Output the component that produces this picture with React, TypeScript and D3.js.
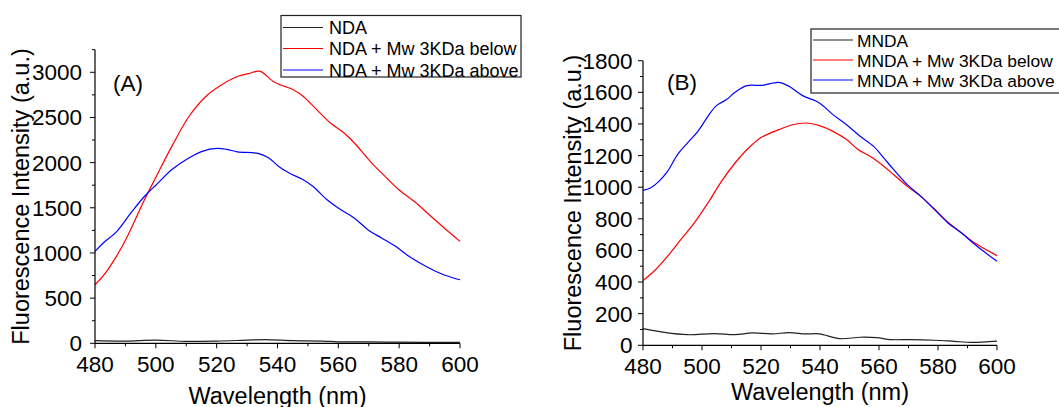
import React from "react";
import * as d3 from "d3";

// ---------- Data (wavelength nm, intensity a.u.) ----------
const xTicks = [480, 500, 520, 540, 560, 580, 600];
const yTicksA = [0, 500, 1000, 1500, 2000, 2500, 3000];
const yTicksB = [0, 200, 400, 600, 800, 1000, 1200, 1400, 1600, 1800];

const ndaLabels = ["NDA", "NDA + Mw 3KDa below", "NDA + Mw 3KDa above"];
const mndaLabels = ["MNDA", "MNDA + Mw 3KDa below", "MNDA + Mw 3KDa above"];

const ndaBlank: [number, number][] = [
  [480, 30], [490, 25], [500, 35], [510, 22], [520, 25], [530, 35], [536, 40],
  [545, 30], [555, 25], [560, 16], [570, 15], [580, 12], [590, 10], [600, 10],
];
const ndaBelow: [number, number][] = [
  [480, 648], [483, 760], [487, 960], [490.6, 1180], [496.3, 1591], [500.2, 1850], [505.3, 2183],
  [511, 2516], [516.6, 2738], [521, 2849], [526.8, 2953], [530.5, 2985], [534.1, 3012],
  [539.2, 2886], [544.9, 2812], [548.3, 2738], [552.8, 2590], [557.3, 2442],
  [561.8, 2331], [565.2, 2220], [570.9, 1998], [574.2, 1887], [579.9, 1700],
  [585, 1570], [590, 1420], [595, 1270], [600, 1128],
];
const ndaAbove: [number, number][] = [
  [480, 1017], [482.7, 1110], [487.2, 1239], [491.8, 1443], [496.3, 1628],
  [500.2, 1757], [505.3, 1924], [511, 2054], [515.5, 2128], [520, 2157],
  [523.4, 2146], [526.8, 2120], [533.6, 2102], [537, 2054], [540.3, 1961],
  [543.7, 1887], [548.3, 1813], [551.6, 1739], [556.2, 1591], [560.7, 1480],
  [565.2, 1388], [569.7, 1258], [574.2, 1166], [578.8, 1073], [583.3, 962],
  [588.9, 851], [594.6, 759], [600, 703],
];

const mndaBlank: [number, number][] = [
  [480, 105], [487.1, 82], [495.1, 67], [504.3, 74], [511.2, 67], [517, 78],
  [523.8, 72], [529.5, 80], [535.2, 72], [539.8, 72], [546.7, 42], [553.6, 51],
  [559.3, 48], [563.8, 36], [570.7, 36], [578.8, 32], [585.6, 25], [591.4, 19],
  [600, 27],
];
const mndaBelow: [number, number][] = [
  [480, 409], [483.7, 468], [488.3, 563], [492.8, 668], [497.4, 774], [502, 900],
  [506.6, 1037], [511.2, 1153], [515.8, 1248], [520.3, 1317], [526.1, 1364],
  [530.7, 1395], [535.2, 1406], [539.8, 1389], [544.4, 1353], [549, 1301],
  [553, 1237], [557, 1195], [561.6, 1132], [565, 1079], [569.6, 1005],
  [574.2, 942], [578.8, 862], [583.4, 778], [588, 710], [592.5, 647], [600, 567],
];
const mndaAbove: [number, number][] = [
  [480, 980], [482.5, 995], [485.4, 1037], [488.3, 1100], [491.7, 1206],
  [495.1, 1280], [498.6, 1353], [502, 1448], [504.9, 1516], [508.3, 1554],
  [511.2, 1600], [515.2, 1642], [520.3, 1644], [526.1, 1663], [529.5, 1638],
  [534.1, 1579], [539.8, 1533], [544.4, 1459], [549, 1395], [553.6, 1322],
  [558.2, 1258], [561.6, 1185], [565, 1111], [569.6, 1016], [574.2, 942],
  [578.8, 858], [583.4, 774], [588, 710], [592.5, 637], [600, 531],
];

const colors = ["#222222", "#ff0000", "#0000ff"];
const FONT = "Arial, 'Liberation Sans', sans-serif";

type PanelProps = {
  x0: number; x1: number; yBottom: number; yTop: number;
  yMax: number; yTicks: number[]; yMinor: number;
  series: [number, number][][];
  labels: string[];
  tag: string; tagX: number; tagY: number;
  legend: { x: number; y: number; w: number; h: number; rows: number[]; lineX0: number; lineX1: number; textX: number; fs: number };
  yLabelPad: number;
  yTitleX: number; xTitleY: number;
};

function Panel(p: PanelProps) {
  const x = d3.scaleLinear().domain([480, 600]).range([p.x0, p.x1]);
  const y = d3.scaleLinear().domain([0, p.yMax]).range([p.yBottom, p.yTop]);
  const line = d3.line<[number, number]>().x((d) => x(d[0])).y((d) => y(d[1])).curve(d3.curveCatmullRom.alpha(0.5));
  const xMinor = d3.range(490, 600, 20);
  const yMinor = d3.range(p.yMinor, p.yMax + 1, p.yMinor * 2);
  const midX = (p.x0 + p.x1) / 2;
  const midY = (p.yBottom + p.yTop) / 2;
  return (
    <g>
      {p.series.map((s, i) => (
        <path key={i} d={line(s) || ""} fill="none" stroke={colors[i]} strokeWidth={1.2} />
      ))}
      <line x1={p.x0} x2={p.x0} y1={y(p.yMax)} y2={p.yBottom} stroke="#000" strokeWidth={1.2} />
      <line x1={p.x0} x2={p.x1} y1={p.yBottom} y2={p.yBottom} stroke="#000" strokeWidth={1.2} />
      {xTicks.map((t) => (
        <g key={"xt" + t}>
          <line x1={x(t)} x2={x(t)} y1={p.yBottom} y2={p.yBottom + 5} stroke="#000" strokeWidth={1} />
          <text x={x(t)} y={p.yBottom + 28.5} textAnchor="middle" fontSize={22.5} fontFamily={FONT} fill="#000">{t}</text>
        </g>
      ))}
      {xMinor.map((t) => (
        <line key={"xm" + t} x1={x(t)} x2={x(t)} y1={p.yBottom} y2={p.yBottom + 3} stroke="#000" strokeWidth={1} />
      ))}
      {p.yTicks.map((t) => (
        <g key={"yt" + t}>
          <line x1={p.x0 - 5} x2={p.x0} y1={y(t)} y2={y(t)} stroke="#000" strokeWidth={1} />
          <text x={p.x0 - p.yLabelPad} y={y(t) + 8} textAnchor="end" fontSize={22.5} fontFamily={FONT} fill="#000">{t}</text>
        </g>
      ))}
      {yMinor.map((t) => (
        <line key={"ym" + t} x1={p.x0 - 3} x2={p.x0} y1={y(t)} y2={y(t)} stroke="#000" strokeWidth={1} />
      ))}
      <text x={midX} y={p.xTitleY} textAnchor="middle" fontSize={23.5} fontFamily={FONT} fill="#000">Wavelength (nm)</text>
      <text transform={`translate(${p.yTitleX},${midY}) rotate(-90)`} textAnchor="middle" fontSize={23.5} fontFamily={FONT} fill="#000">Fluorescence Intensity (a.u.)</text>
      <text x={p.tagX} y={p.tagY} fontSize={22.5} fontFamily={FONT} fill="#000">{p.tag}</text>
      <rect x={p.legend.x} y={p.legend.y} width={p.legend.w} height={p.legend.h} fill="#fff" stroke="#222" strokeWidth={1.2} />
      {p.labels.map((l, i) => (
        <g key={"lg" + i}>
          <line x1={p.legend.lineX0} x2={p.legend.lineX1} y1={p.legend.rows[i]} y2={p.legend.rows[i]} stroke={colors[i]} strokeWidth={1.2} />
          <text x={p.legend.textX} y={p.legend.rows[i] + 6.5} fontSize={p.legend.fs} fontFamily={FONT} fill="#000">{l}</text>
        </g>
      ))}
    </g>
  );
}

export default function App() {
  return (
    <svg width={1059} height={407} style={{ position: "absolute", left: 0, top: 0, background: "#fff" }}>
      <rect x={0} y={0} width={1059} height={407} fill="#fff" />
      <Panel
        x0={95} x1={460} yBottom={343.3} yTop={49.7} yMax={3250} yTicks={yTicksA} yMinor={250}
        series={[ndaBlank, ndaBelow, ndaAbove]} labels={ndaLabels}
        tag="(A)" tagX={113} tagY={91}
        legend={{ x: 281, y: 15.5, w: 240, h: 61.5, rows: [27.5, 48.5, 70], lineX0: 283, lineX1: 323, textX: 329, fs: 18 }}
        yLabelPad={13} yTitleX={29} xTitleY={403.5}
      />
      <Panel
        x0={643} x1={997} yBottom={345.3} yTop={60.7} yMax={1800} yTicks={yTicksB} yMinor={100}
        series={[mndaBlank, mndaBelow, mndaAbove]} labels={mndaLabels}
        tag="(B)" tagX={667} tagY={90}
        legend={{ x: 811, y: 29, w: 260, h: 64, rows: [40, 60, 80], lineX0: 813, lineX1: 853, textX: 857, fs: 17.4 }}
        yLabelPad={10.5} yTitleX={581} xTitleY={400}
      />
    </svg>
  );
}
